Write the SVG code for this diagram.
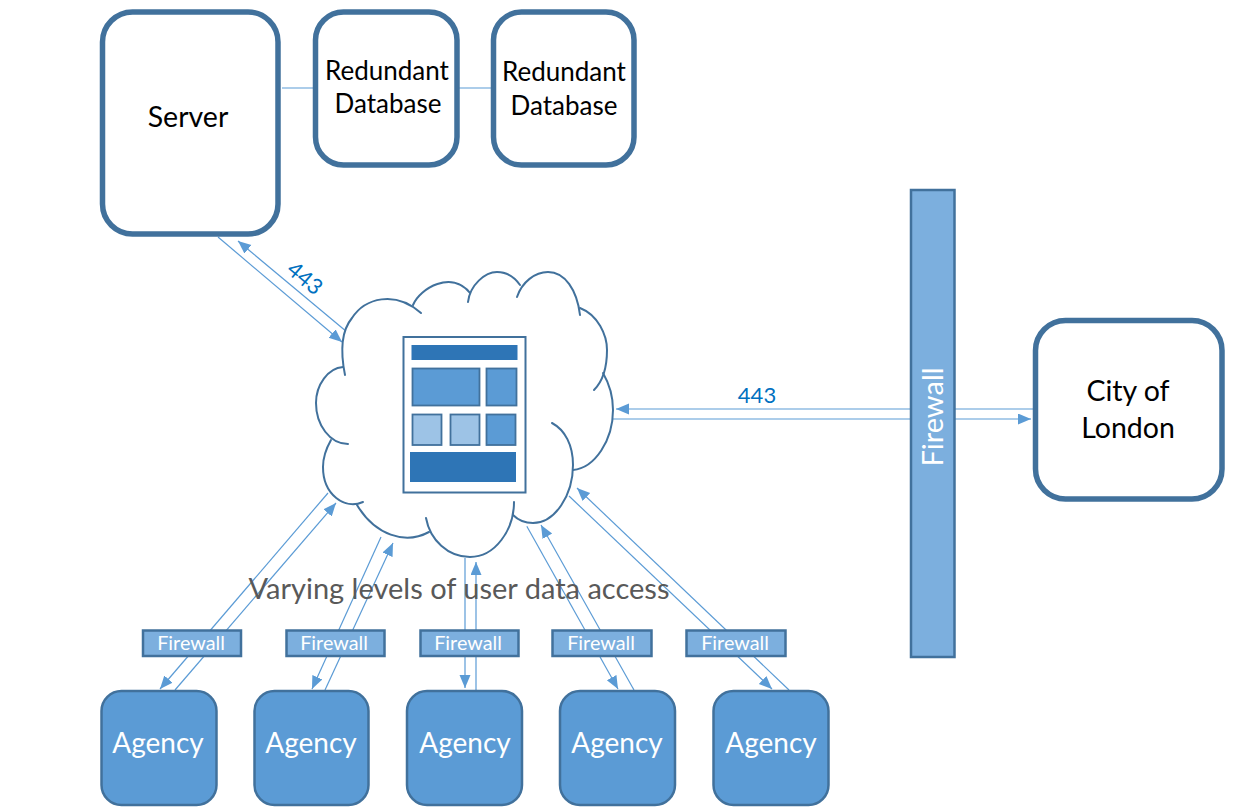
<svg xmlns="http://www.w3.org/2000/svg" width="1237" height="809" viewBox="0 0 1237 809">
<style>
text{font-family:Lato,"Open Sans","Liberation Sans",sans-serif;text-anchor:middle}
.w{fill:#fff;stroke:#41719c;stroke-width:5.500}
.a{fill:#5b9bd5;stroke:#41719c;stroke-width:2.500}
.f{fill:#7cafde;stroke:#41719c;stroke-width:2.500}
.k{fill:#000;font-size:26px}
.b{fill:#000;font-size:28.500px}
.ag{fill:#fff;font-size:28px}
.fw{fill:#fff;font-size:19.800px}
.p{fill:#0070c0;font-size:22px}
.c{fill:none;stroke:#5b9bd5;stroke-width:1.200}
.ca{fill:none;stroke:#41719c;stroke-width:2;stroke-linecap:round}
.d{fill:#2e75b6}
.m{fill:#5b9bd5;stroke:#41719c;stroke-width:1.800}
.l{fill:#9dc3e6;stroke:#41719c;stroke-width:1.800}
</style>
<defs>
<marker id="arr" markerUnits="userSpaceOnUse" markerWidth="14" markerHeight="12" refX="13" refY="5.500" orient="auto"><path d="M0 0L13 5.500L0 11Z" fill="#5b9bd5"/></marker>
</defs>
<rect width="1237" height="809" fill="#fff"/>
<g id="connectors" class="connectors">
<path class="c" d="M282 88H313M459 88H491"/>
<path class="c" d="M218 237L342 342" marker-end="url(#arr)"/>
<path class="c" d="M347 332L238 241" marker-end="url(#arr)"/>
<path class="c" d="M910 409H616" marker-end="url(#arr)"/>
<path class="c" d="M613 419H910"/>
<path class="c" d="M955 409H1033"/>
<path class="c" d="M955 419H1031" marker-end="url(#arr)"/>
<path class="c" d="M328 493L160 689" marker-end="url(#arr)"/>
<path class="c" d="M175 690L336 503" marker-end="url(#arr)"/>
<path class="c" d="M381 537L312 689" marker-end="url(#arr)"/>
<path class="c" d="M325 690L393 543" marker-end="url(#arr)"/>
<path class="c" d="M465 558V688" marker-end="url(#arr)"/>
<path class="c" d="M476 690V562" marker-end="url(#arr)"/>
<path class="c" d="M525 523L618 689" marker-end="url(#arr)"/>
<path class="c" d="M634 690L541 525" marker-end="url(#arr)"/>
<path class="c" d="M569 496L772 689" marker-end="url(#arr)"/>
<path class="c" d="M789 690L577 488" marker-end="url(#arr)"/>
</g>
<g id="server"><rect class="w" x="102.500" y="12" width="175.500" height="222" rx="30"/><text class="b" x="188" y="127">Server</text></g>
<g id="db1"><rect class="w" x="315.500" y="12" width="141.500" height="153" rx="28"/><text class="k" x="387" y="80">Redundant</text><text class="k" x="388" y="113">Database</text></g>
<g id="db2"><rect class="w" x="493.500" y="12" width="140.500" height="153" rx="28"/><text class="k" x="564" y="81">Redundant</text><text class="k" x="564" y="115">Database</text></g>
<g id="city"><rect class="w" x="1035.500" y="320.500" width="186.500" height="178.500" rx="30"/><text class="b" x="1128" y="401">City of</text><text class="b" x="1128" y="438">London</text></g>
<g id="cloud">
<path d="M345 375C340 350 342 330 352 318C365 298 395 290 421 313L470 293L520 285L580 310L607 350L613 410L573 470L533 523L470 557L400 540L353 506L323 467L316 403Z" fill="#fff"/>
<path class="ca" d="M345 375C340 350 342 330 352 318C365 298 395 290 421 313"/>
<path class="ca" d="M413 305C420 288 452 270 470 293"/>
<path class="ca" d="M468 302C470 285 485 272 497 272C507 272 515 278 520 285"/>
<path class="ca" d="M517 297C522 282 535 272 548 272C565 272 577 290 580 315"/>
<path class="ca" d="M580 308C598 315 607 335 607 350C607 368 602 382 594 390"/>
<path class="ca" d="M603 373C610 385 613 395 613 410C613 440 595 468 573 470"/>
<path class="ca" d="M552 423C565 430 573 445 573 465C573 495 555 523 533 523C525 523 518 520 513 515"/>
<path class="ca" d="M514 502C514 530 495 557 470 557C448 557 430 540 426 518"/>
<path class="ca" d="M429 532C405 545 375 535 357 505"/>
<path class="ca" d="M363 502C345 510 323 495 323 467C323 455 327 447 331 440"/>
<path class="ca" d="M348 444C330 444 316 425 316 403C316 385 328 368 343 367"/>
<rect x="403.500" y="337" width="122" height="155.500" fill="#fff" stroke="#41719c" stroke-width="2"/>
<rect class="d" x="411.500" y="345" width="106" height="15"/>
<rect class="m" x="412.500" y="368.500" width="67" height="37"/>
<rect class="m" x="486.500" y="368.500" width="30" height="37"/>
<rect class="l" x="412.500" y="414.500" width="29" height="30.500"/>
<rect class="l" x="450.500" y="414.500" width="29" height="30.500"/>
<rect class="m" x="486.500" y="414.500" width="29" height="30.500"/>
<rect class="d" x="410" y="452" width="106" height="30"/>
</g>
<g id="firewall-main"><rect class="f" x="911" y="190" width="43.500" height="467"/><text class="ag" font-size="29" style="font-size:29px" transform="translate(943 417) rotate(-90)">Firewall</text></g>
<g id="fw1"><rect class="f" x="143" y="630.500" width="98" height="25.500"/><text class="fw" x="191" y="650">Firewall</text></g>
<g id="fw2"><rect class="f" x="286.500" y="630.500" width="98" height="25.500"/><text class="fw" x="334" y="650">Firewall</text></g>
<g id="fw3"><rect class="f" x="420.500" y="630.500" width="98" height="25.500"/><text class="fw" x="468" y="650">Firewall</text></g>
<g id="fw4"><rect class="f" x="552.500" y="630.500" width="99" height="25.500"/><text class="fw" x="601" y="650">Firewall</text></g>
<g id="fw5"><rect class="f" x="686.500" y="630.500" width="99" height="25.500"/><text class="fw" x="735" y="650">Firewall</text></g>
<g id="ag1"><rect class="a" x="101.500" y="691" width="115" height="114" rx="20"/><text class="ag" x="158" y="753">Agency</text></g>
<g id="ag2"><rect class="a" x="254.500" y="691" width="114" height="114" rx="20"/><text class="ag" x="311" y="753">Agency</text></g>
<g id="ag3"><rect class="a" x="407" y="691" width="115" height="114" rx="20"/><text class="ag" x="465" y="753">Agency</text></g>
<g id="ag4"><rect class="a" x="560" y="691" width="115" height="114" rx="20"/><text class="ag" x="617" y="753">Agency</text></g>
<g id="ag5"><rect class="a" x="713.500" y="691" width="115" height="114" rx="20"/><text class="ag" x="771" y="753">Agency</text></g>
<text class="p" x="757" y="403">443</text>
<text class="p" transform="translate(300 284) rotate(40)">443</text>
<text x="459" y="599" font-size="29" fill="#595959">Varying levels of user data access</text>
</svg>
